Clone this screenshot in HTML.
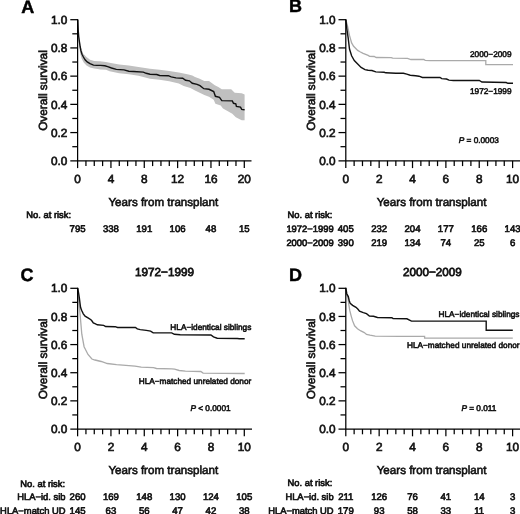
<!DOCTYPE html>
<html><head><meta charset="utf-8"><title>Overall survival figure</title>
<style>
html,body{margin:0;padding:0;background:#fff;}
body{width:520px;height:514px;overflow:hidden;}
svg{display:block;font-family:"Liberation Sans", sans-serif;}
.nos{stroke:none}
</style></head><body>
<svg style="will-change:transform;text-rendering:geometricPrecision" width="520" height="514" viewBox="0 0 520 514">
<rect width="520" height="514" fill="#fff"/>
<path d="M77.8 19.8L78.5 32L79.5 40L81 47L83 53.5L86.5 57L90 59.8L94.2 60.9L99.1 61.2L100 61.25L106 62L109.6 62.7L119.2 64.6L128.8 65.6L138.5 67L150 68.8L159.6 69.7L169.2 71.1L178.8 72.6L183.7 73.5L188.5 74.5L192.3 75.5L195 77L199.7 78.8L204.3 81.1L209 81.1L214.8 85.2L218.3 86.9L221.8 89.3L231.2 89.3L234.7 92.8L241.7 93.3L244.6 94.5L244.6 120.2L241.7 120.2L235.8 117.3L232.3 113.8L223 108.5L220.7 105.6L215.4 103.8L213.7 99.8L209 96.8L204.3 95.1L199.7 92.8L195 90.4L190.4 88L183.7 86L178.8 83.6L169.2 81.2L159.6 79.8L150 78.8L145.2 77.6L138.5 75.7L128.8 74.2L119.2 73.3L109.6 71.3L106 69.8L100 69.4L99.1 69.3L94.2 68.6L90 67.5L86.5 65.4L83.7 62.6L81.6 58.4L80.2 53.5L79.2 46L78.4 36L77.8 19.8Z" fill="#c0c0c0" stroke="none"/>
<g fill="none" stroke-linejoin="miter" stroke-linecap="butt">
<path d="M77.8 19.8L78.2 30L78.7 36.5L79.4 41.6L80.1 46.5L80.9 50.7L82 54.2L83.4 57L85.1 59.8L87.2 61.9L90 63.7L93.5 65.1L97 65.4L100.5 65.4L104.8 65.8L107.7 66.7L111.5 68L116.3 69.4L124 69.9L128.8 71.2L133.7 71.5L143.3 72.1L146.2 73.3L150 74.2L156.7 74.5L159.6 75.5L168.3 75.7L171.2 76.9L176 77.9L182.7 78.2L185.6 80.3L189.4 80.8L192.3 83.3L197.1 84.3L200 85.6L203.8 88.7L209 89.3L213.7 91.6L215.4 96.3L219.5 97.4L221.8 100.6L232.3 100.9L233.5 103.3L235.8 103.8L236.4 106.4L240.5 107.1L241.7 109.4L244.6 109.7" stroke="#111" stroke-width="1.4"/>
<path d="M345.9 19.8L347.5 25.9L349.5 35.4L351.6 42.9L353.6 46.3L357.7 50.4L360 51.8L363.1 53.4L365 54.1L368.1 55.4L369.6 56.4L374.2 56.5L376.2 57.5L391.2 57.7L392.7 58.2L407.5 58.4L410.9 59.5L423.8 59.5L425.2 60.3L430 60.6L485.8 60.6L485.8 64.7L513 64.7" stroke="#aaaaaa" stroke-width="1.3"/>
<path d="M345.9 19.8L346.8 28.6L348.2 38.1L349.5 49L351.6 55.8L354.3 60.6L357.7 64L361.1 67.4L365 69.6L368.1 70.2L371.9 70.5L375.8 71.9L384.2 72.3L385.8 72.8L395.8 73.3L403.4 73.3L406.8 74.1L410.2 75.2L415.6 75.7L419 76.2L422.4 77.5L440 77.5L441.7 78.6L446.5 79L449 80.1L453.4 80.5L479.3 80.5L481.9 82L506.2 82.5L507.9 83.3L513 83.3" stroke="#111" stroke-width="1.4"/>
<path d="M77.7 288.2L78.7 300L80.2 315.6L81.8 334.2L84.1 346.7L88 354.5L91.9 359L95 360L101.2 361.5L107.3 363.5L116.5 364.6L125.8 365.4L135 366.2L141.2 367.2L153.5 367.7L156.5 368.5L171.9 368.8L174.6 369.2L179.2 370.5L185.4 371.1L200.8 371.5L203.1 373.1L244.7 373.5" stroke="#aaaaaa" stroke-width="1.3"/>
<path d="M77.7 288.2L78.6 293L79.3 297.5L80.1 304L80.6 307.5L81.6 310.3L83.3 313.8L85.1 316.2L88 317.9L90.9 319.7L92 321L93.3 322.9L95 323.7L97.3 324.8L103.7 325.4L105.6 326.5L115.2 326.7L117.6 327.5L135.4 327.5L137.3 328.9L140.2 329.6L146.3 330.4L150.6 331.1L153.2 332.9L171.7 332.9L174.4 334.3L180.2 334.8L210.9 335L213.5 336.9L217.2 338.2L237.3 338.5L239.4 338.8L244.7 338.8" stroke="#111" stroke-width="1.4"/>
<path d="M345.8 292.7L347.8 296.6L348.8 304.4L349.7 310.2L351.2 316.1L352.6 320.9L354.6 325.8L357.5 328.7L360.4 330.7L364.3 332.6L366.5 334.4L370 335.2L375.2 336.1L400 336.3L424.6 336.4L424.6 338.2L512.8 338.2" stroke="#aaaaaa" stroke-width="1.3"/>
<path d="M345.8 287.9L346.8 293.7L348.3 296.6L349.2 300.5L350.2 303.4L352.6 305.4L356 307.3L358 309.3L359.5 311.2L363.3 312.7L366.5 313.7L369.4 316L373.5 316.3L377.5 317.5L391.9 317.7L393.1 318.6L406.9 318.8L411.5 321.1L486.2 321.1L486.2 330.2L512.8 330.2" stroke="#111" stroke-width="1.4"/>
</g>
<g stroke="#000" stroke-width="1.25" fill="none">
<line x1="77.6" y1="19.07" x2="77.6" y2="168.1"/>
<line x1="70.3" y1="160.8" x2="251.5" y2="160.8"/>
<line x1="72.3" y1="146.69" x2="77.6" y2="146.69"/>
<line x1="70.3" y1="132.58" x2="77.6" y2="132.58"/>
<line x1="72.3" y1="118.47" x2="77.6" y2="118.47"/>
<line x1="70.3" y1="104.36" x2="77.6" y2="104.36"/>
<line x1="72.3" y1="90.25" x2="77.6" y2="90.25"/>
<line x1="70.3" y1="76.14" x2="77.6" y2="76.14"/>
<line x1="72.3" y1="62.03" x2="77.6" y2="62.03"/>
<line x1="70.3" y1="47.92" x2="77.6" y2="47.92"/>
<line x1="72.3" y1="33.81" x2="77.6" y2="33.81"/>
<line x1="70.3" y1="19.7" x2="77.6" y2="19.7"/>
<line x1="85.94" y1="160.8" x2="85.94" y2="166.1"/>
<line x1="94.27" y1="160.8" x2="94.27" y2="166.1"/>
<line x1="102.6" y1="160.8" x2="102.6" y2="166.1"/>
<line x1="110.94" y1="160.8" x2="110.94" y2="168.1"/>
<line x1="119.28" y1="160.8" x2="119.28" y2="166.1"/>
<line x1="127.61" y1="160.8" x2="127.61" y2="166.1"/>
<line x1="135.94" y1="160.8" x2="135.94" y2="166.1"/>
<line x1="144.28" y1="160.8" x2="144.28" y2="168.1"/>
<line x1="152.62" y1="160.8" x2="152.62" y2="166.1"/>
<line x1="160.95" y1="160.8" x2="160.95" y2="166.1"/>
<line x1="169.29" y1="160.8" x2="169.29" y2="166.1"/>
<line x1="177.62" y1="160.8" x2="177.62" y2="168.1"/>
<line x1="185.96" y1="160.8" x2="185.96" y2="166.1"/>
<line x1="194.29" y1="160.8" x2="194.29" y2="166.1"/>
<line x1="202.62" y1="160.8" x2="202.62" y2="166.1"/>
<line x1="210.96" y1="160.8" x2="210.96" y2="168.1"/>
<line x1="219.29" y1="160.8" x2="219.29" y2="166.1"/>
<line x1="227.63" y1="160.8" x2="227.63" y2="166.1"/>
<line x1="235.97" y1="160.8" x2="235.97" y2="166.1"/>
<line x1="244.3" y1="160.8" x2="244.3" y2="168.1"/>
<line x1="345.8" y1="19.07" x2="345.8" y2="168.1"/>
<line x1="338.5" y1="160.8" x2="521" y2="160.8"/>
<line x1="340.5" y1="146.69" x2="345.8" y2="146.69"/>
<line x1="338.5" y1="132.58" x2="345.8" y2="132.58"/>
<line x1="340.5" y1="118.47" x2="345.8" y2="118.47"/>
<line x1="338.5" y1="104.36" x2="345.8" y2="104.36"/>
<line x1="340.5" y1="90.25" x2="345.8" y2="90.25"/>
<line x1="338.5" y1="76.14" x2="345.8" y2="76.14"/>
<line x1="340.5" y1="62.03" x2="345.8" y2="62.03"/>
<line x1="338.5" y1="47.92" x2="345.8" y2="47.92"/>
<line x1="340.5" y1="33.81" x2="345.8" y2="33.81"/>
<line x1="338.5" y1="19.7" x2="345.8" y2="19.7"/>
<line x1="354.14" y1="160.8" x2="354.14" y2="166.1"/>
<line x1="362.48" y1="160.8" x2="362.48" y2="166.1"/>
<line x1="370.82" y1="160.8" x2="370.82" y2="166.1"/>
<line x1="379.16" y1="160.8" x2="379.16" y2="168.1"/>
<line x1="387.5" y1="160.8" x2="387.5" y2="166.1"/>
<line x1="395.84" y1="160.8" x2="395.84" y2="166.1"/>
<line x1="404.18" y1="160.8" x2="404.18" y2="166.1"/>
<line x1="412.52" y1="160.8" x2="412.52" y2="168.1"/>
<line x1="420.86" y1="160.8" x2="420.86" y2="166.1"/>
<line x1="429.2" y1="160.8" x2="429.2" y2="166.1"/>
<line x1="437.54" y1="160.8" x2="437.54" y2="166.1"/>
<line x1="445.88" y1="160.8" x2="445.88" y2="168.1"/>
<line x1="454.22" y1="160.8" x2="454.22" y2="166.1"/>
<line x1="462.56" y1="160.8" x2="462.56" y2="166.1"/>
<line x1="470.9" y1="160.8" x2="470.9" y2="166.1"/>
<line x1="479.24" y1="160.8" x2="479.24" y2="168.1"/>
<line x1="487.58" y1="160.8" x2="487.58" y2="166.1"/>
<line x1="495.92" y1="160.8" x2="495.92" y2="166.1"/>
<line x1="504.26" y1="160.8" x2="504.26" y2="166.1"/>
<line x1="512.6" y1="160.8" x2="512.6" y2="168.1"/>
<line x1="77.6" y1="287.68" x2="77.6" y2="436.3"/>
<line x1="70.3" y1="429" x2="252" y2="429"/>
<line x1="72.3" y1="414.93" x2="77.6" y2="414.93"/>
<line x1="70.3" y1="400.86" x2="77.6" y2="400.86"/>
<line x1="72.3" y1="386.79" x2="77.6" y2="386.79"/>
<line x1="70.3" y1="372.72" x2="77.6" y2="372.72"/>
<line x1="72.3" y1="358.65" x2="77.6" y2="358.65"/>
<line x1="70.3" y1="344.58" x2="77.6" y2="344.58"/>
<line x1="72.3" y1="330.51" x2="77.6" y2="330.51"/>
<line x1="70.3" y1="316.44" x2="77.6" y2="316.44"/>
<line x1="72.3" y1="302.37" x2="77.6" y2="302.37"/>
<line x1="70.3" y1="288.3" x2="77.6" y2="288.3"/>
<line x1="85.94" y1="429" x2="85.94" y2="434.3"/>
<line x1="94.27" y1="429" x2="94.27" y2="434.3"/>
<line x1="102.6" y1="429" x2="102.6" y2="434.3"/>
<line x1="110.94" y1="429" x2="110.94" y2="436.3"/>
<line x1="119.28" y1="429" x2="119.28" y2="434.3"/>
<line x1="127.61" y1="429" x2="127.61" y2="434.3"/>
<line x1="135.94" y1="429" x2="135.94" y2="434.3"/>
<line x1="144.28" y1="429" x2="144.28" y2="436.3"/>
<line x1="152.62" y1="429" x2="152.62" y2="434.3"/>
<line x1="160.95" y1="429" x2="160.95" y2="434.3"/>
<line x1="169.29" y1="429" x2="169.29" y2="434.3"/>
<line x1="177.62" y1="429" x2="177.62" y2="436.3"/>
<line x1="185.96" y1="429" x2="185.96" y2="434.3"/>
<line x1="194.29" y1="429" x2="194.29" y2="434.3"/>
<line x1="202.62" y1="429" x2="202.62" y2="434.3"/>
<line x1="210.96" y1="429" x2="210.96" y2="436.3"/>
<line x1="219.29" y1="429" x2="219.29" y2="434.3"/>
<line x1="227.63" y1="429" x2="227.63" y2="434.3"/>
<line x1="235.97" y1="429" x2="235.97" y2="434.3"/>
<line x1="244.3" y1="429" x2="244.3" y2="436.3"/>
<line x1="345.8" y1="287.68" x2="345.8" y2="436.3"/>
<line x1="338.5" y1="429" x2="521" y2="429"/>
<line x1="340.5" y1="414.93" x2="345.8" y2="414.93"/>
<line x1="338.5" y1="400.86" x2="345.8" y2="400.86"/>
<line x1="340.5" y1="386.79" x2="345.8" y2="386.79"/>
<line x1="338.5" y1="372.72" x2="345.8" y2="372.72"/>
<line x1="340.5" y1="358.65" x2="345.8" y2="358.65"/>
<line x1="338.5" y1="344.58" x2="345.8" y2="344.58"/>
<line x1="340.5" y1="330.51" x2="345.8" y2="330.51"/>
<line x1="338.5" y1="316.44" x2="345.8" y2="316.44"/>
<line x1="340.5" y1="302.37" x2="345.8" y2="302.37"/>
<line x1="338.5" y1="288.3" x2="345.8" y2="288.3"/>
<line x1="354.14" y1="429" x2="354.14" y2="434.3"/>
<line x1="362.48" y1="429" x2="362.48" y2="434.3"/>
<line x1="370.82" y1="429" x2="370.82" y2="434.3"/>
<line x1="379.16" y1="429" x2="379.16" y2="436.3"/>
<line x1="387.5" y1="429" x2="387.5" y2="434.3"/>
<line x1="395.84" y1="429" x2="395.84" y2="434.3"/>
<line x1="404.18" y1="429" x2="404.18" y2="434.3"/>
<line x1="412.52" y1="429" x2="412.52" y2="436.3"/>
<line x1="420.86" y1="429" x2="420.86" y2="434.3"/>
<line x1="429.2" y1="429" x2="429.2" y2="434.3"/>
<line x1="437.54" y1="429" x2="437.54" y2="434.3"/>
<line x1="445.88" y1="429" x2="445.88" y2="436.3"/>
<line x1="454.22" y1="429" x2="454.22" y2="434.3"/>
<line x1="462.56" y1="429" x2="462.56" y2="434.3"/>
<line x1="470.9" y1="429" x2="470.9" y2="434.3"/>
<line x1="479.24" y1="429" x2="479.24" y2="436.3"/>
<line x1="487.58" y1="429" x2="487.58" y2="434.3"/>
<line x1="495.92" y1="429" x2="495.92" y2="434.3"/>
<line x1="504.26" y1="429" x2="504.26" y2="434.3"/>
<line x1="512.6" y1="429" x2="512.6" y2="436.3"/>
</g>
<g font-size="11.8" fill="#111" stroke="#111" stroke-width="0.65">
<text x="67.4" y="164.99" text-anchor="end">0.0</text>
<text x="67.4" y="136.77" text-anchor="end">0.2</text>
<text x="67.4" y="108.55" text-anchor="end">0.4</text>
<text x="67.4" y="80.33" text-anchor="end">0.6</text>
<text x="67.4" y="52.11" text-anchor="end">0.8</text>
<text x="67.4" y="23.89" text-anchor="end">1.0</text>
<text x="335.6" y="164.99" text-anchor="end">0.0</text>
<text x="335.6" y="136.77" text-anchor="end">0.2</text>
<text x="335.6" y="108.55" text-anchor="end">0.4</text>
<text x="335.6" y="80.33" text-anchor="end">0.6</text>
<text x="335.6" y="52.11" text-anchor="end">0.8</text>
<text x="335.6" y="23.89" text-anchor="end">1.0</text>
<text x="67.4" y="433.19" text-anchor="end">0.0</text>
<text x="67.4" y="405.05" text-anchor="end">0.2</text>
<text x="67.4" y="376.91" text-anchor="end">0.4</text>
<text x="67.4" y="348.77" text-anchor="end">0.6</text>
<text x="67.4" y="320.63" text-anchor="end">0.8</text>
<text x="67.4" y="292.49" text-anchor="end">1.0</text>
<text x="335.6" y="433.19" text-anchor="end">0.0</text>
<text x="335.6" y="405.05" text-anchor="end">0.2</text>
<text x="335.6" y="376.91" text-anchor="end">0.4</text>
<text x="335.6" y="348.77" text-anchor="end">0.6</text>
<text x="335.6" y="320.63" text-anchor="end">0.8</text>
<text x="335.6" y="292.49" text-anchor="end">1.0</text>
<text x="77.6" y="182.9" text-anchor="middle">0</text>
<text x="110.94" y="182.9" text-anchor="middle">4</text>
<text x="144.28" y="182.9" text-anchor="middle">8</text>
<text x="177.62" y="182.9" text-anchor="middle">12</text>
<text x="210.96" y="182.9" text-anchor="middle">16</text>
<text x="244.3" y="182.9" text-anchor="middle">20</text>
<text x="345.8" y="182.9" text-anchor="middle">0</text>
<text x="379.16" y="182.9" text-anchor="middle">2</text>
<text x="412.52" y="182.9" text-anchor="middle">4</text>
<text x="445.88" y="182.9" text-anchor="middle">6</text>
<text x="479.24" y="182.9" text-anchor="middle">8</text>
<text x="512.6" y="182.9" text-anchor="middle">10</text>
<text x="77.6" y="451" text-anchor="middle">0</text>
<text x="110.94" y="451" text-anchor="middle">2</text>
<text x="144.28" y="451" text-anchor="middle">4</text>
<text x="177.62" y="451" text-anchor="middle">6</text>
<text x="210.96" y="451" text-anchor="middle">8</text>
<text x="244.3" y="451" text-anchor="middle">10</text>
<text x="345.8" y="451" text-anchor="middle">0</text>
<text x="379.16" y="451" text-anchor="middle">2</text>
<text x="412.52" y="451" text-anchor="middle">4</text>
<text x="445.88" y="451" text-anchor="middle">6</text>
<text x="479.24" y="451" text-anchor="middle">8</text>
<text x="512.6" y="451" text-anchor="middle">10</text>
</g>
<g font-size="11.8" fill="#111" stroke="#111" stroke-width="0.6">
<text x="163.35" y="205.6" text-anchor="middle" font-size="11.6">Years from transplant</text>
<text transform="translate(46.8 90.55) rotate(-90)" x="0" y="0" text-anchor="middle">Overall survival</text>
<text x="431.6" y="205.6" text-anchor="middle" font-size="11.6">Years from transplant</text>
<text transform="translate(315 90.55) rotate(-90)" x="0" y="0" text-anchor="middle">Overall survival</text>
<text x="163.35" y="474.1" text-anchor="middle" font-size="11.6">Years from transplant</text>
<text transform="translate(46.8 358.95) rotate(-90)" x="0" y="0" text-anchor="middle">Overall survival</text>
<text x="431.6" y="474.1" text-anchor="middle" font-size="11.6">Years from transplant</text>
<text transform="translate(315 358.95) rotate(-90)" x="0" y="0" text-anchor="middle">Overall survival</text>
</g>
<g font-size="18" font-weight="bold" fill="#000" stroke="#000" stroke-width="0.45">
<text x="21.3" y="12.5">A</text>
<text x="289" y="12.3">B</text>
<text x="20.6" y="281.1">C</text>
<text x="289" y="281.3">D</text>
</g>
<g font-size="11.7" fill="#111" text-anchor="middle" stroke="#111" stroke-width="0.75">
<text x="164.5" y="276.2">1972−1999</text>
<text x="432.3" y="276.2">2000−2009</text>
</g>
<g font-size="8.25" fill="#111" stroke="#111" stroke-width="0.55">
<text x="511.5" y="56.6" text-anchor="end">2000−2009</text>
<text x="511.5" y="93.5" text-anchor="end">1972−1999</text>
<text x="498.9" y="142.8" text-anchor="end"><tspan font-style="italic">P</tspan> = 0.0003</text>
<text x="251.3" y="330.4" text-anchor="end">HLA−identical siblings</text>
<text x="251.3" y="384.2" text-anchor="end">HLA−matched unrelated donor</text>
<text x="230.6" y="411.2" text-anchor="end"><tspan font-style="italic">P</tspan> &lt; 0.0001</text>
<text x="519.5" y="316.5" text-anchor="end">HLA−identical siblings</text>
<text x="407" y="348.2">HLA−matched unrelated donor</text>
<text x="496.4" y="410.8" text-anchor="end"><tspan font-style="italic">P</tspan> = 0.011</text>
</g>
<g font-size="9.6" fill="#111" stroke="#111" stroke-width="0.65">
<text x="26.3" y="218" font-size="9.4">No. at risk:</text>
<text x="77.6" y="231.8" text-anchor="middle">795</text>
<text x="110.94" y="231.8" text-anchor="middle">338</text>
<text x="144.28" y="231.8" text-anchor="middle">191</text>
<text x="177.62" y="231.8" text-anchor="middle">106</text>
<text x="210.96" y="231.8" text-anchor="middle">48</text>
<text x="244.3" y="231.8" text-anchor="middle">15</text>
<text x="287.5" y="218" font-size="9.4">No. at risk:</text>
<text x="333.6" y="232" text-anchor="end" font-size="9.4">1972−1999</text>
<text x="345.8" y="232" text-anchor="middle">405</text>
<text x="379.16" y="232" text-anchor="middle">232</text>
<text x="412.52" y="232" text-anchor="middle">204</text>
<text x="445.88" y="232" text-anchor="middle">177</text>
<text x="479.24" y="232" text-anchor="middle">166</text>
<text x="512.6" y="232" text-anchor="middle">143</text>
<text x="333.6" y="246.3" text-anchor="end" font-size="9.4">2000−2009</text>
<text x="345.8" y="246.3" text-anchor="middle">390</text>
<text x="379.16" y="246.3" text-anchor="middle">219</text>
<text x="412.52" y="246.3" text-anchor="middle">134</text>
<text x="445.88" y="246.3" text-anchor="middle">74</text>
<text x="479.24" y="246.3" text-anchor="middle">25</text>
<text x="512.6" y="246.3" text-anchor="middle">6</text>
<text x="20.3" y="486.5" font-size="9.4">No. at risk:</text>
<text x="65.5" y="500.4" text-anchor="end" font-size="9.4">HLA−id. sib</text>
<text x="77.6" y="500.4" text-anchor="middle">260</text>
<text x="110.94" y="500.4" text-anchor="middle">169</text>
<text x="144.28" y="500.4" text-anchor="middle">148</text>
<text x="177.62" y="500.4" text-anchor="middle">130</text>
<text x="210.96" y="500.4" text-anchor="middle">124</text>
<text x="244.3" y="500.4" text-anchor="middle">105</text>
<text x="65.5" y="513.9" text-anchor="end" font-size="9.4">HLA−match UD</text>
<text x="77.6" y="513.9" text-anchor="middle">145</text>
<text x="110.94" y="513.9" text-anchor="middle">63</text>
<text x="144.28" y="513.9" text-anchor="middle">56</text>
<text x="177.62" y="513.9" text-anchor="middle">47</text>
<text x="210.96" y="513.9" text-anchor="middle">42</text>
<text x="244.3" y="513.9" text-anchor="middle">38</text>
<text x="287.5" y="486.3" font-size="9.4">No. at risk:</text>
<text x="333.6" y="500.2" text-anchor="end" font-size="9.4">HLA−id. sib</text>
<text x="345.8" y="500.2" text-anchor="middle">211</text>
<text x="379.16" y="500.2" text-anchor="middle">126</text>
<text x="412.52" y="500.2" text-anchor="middle">76</text>
<text x="445.88" y="500.2" text-anchor="middle">41</text>
<text x="479.24" y="500.2" text-anchor="middle">14</text>
<text x="512.6" y="500.2" text-anchor="middle">3</text>
<text x="333.6" y="513.9" text-anchor="end" font-size="9.4">HLA−match UD</text>
<text x="345.8" y="513.9" text-anchor="middle">179</text>
<text x="379.16" y="513.9" text-anchor="middle">93</text>
<text x="412.52" y="513.9" text-anchor="middle">58</text>
<text x="445.88" y="513.9" text-anchor="middle">33</text>
<text x="479.24" y="513.9" text-anchor="middle">11</text>
<text x="512.6" y="513.9" text-anchor="middle">3</text>
</g>
</svg></body></html>
